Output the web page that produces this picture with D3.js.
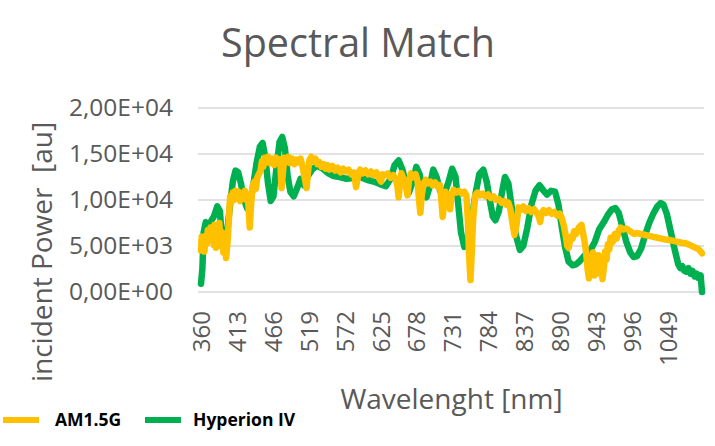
<!DOCTYPE html>
<html>
<head>
<meta charset="utf-8">
<script src="https://cdn.jsdelivr.net/npm/d3@7"></script>
<style>
  html, body { margin: 0; padding: 0; background: #fff; }
  svg { display: block; font-family: "Open Sans", "Noto Sans", sans-serif; }
</style>
</head>
<body>
<svg id="chart" width="715" height="446"></svg>
<script>
// tick labels of the category axis (every 53 nm)
var xTickLabels = [360, 413, 466, 519, 572, 625, 678, 731, 784, 837, 890, 943, 996, 1049];
var yTickValues = [0, 5000, 10000, 15000, 20000];
var seriesNames = ['AM1.5G', 'Hyperion IV'];
var seriesColors = ['#FFC000', '#00B050'];

// [wavelength nm, incident power au]
var am15gData = [
  [360,4500],[361,6000],[362,4800],[364,5900],[365,4400],[367,6100],[369,5300],[370,6700],[372,5600],[374,7000],
  [375,5800],[377,6800],[379,5100],[380,7300],[382,4800],[384,6900],[386,5400],[387,7500],[389,5000],[391,6500],
  [393,4300],[395,6200],[397,3700],[399,5200],[401,7600],[403,10400],[405,9800],[407,10800],[409,10000],[411,11000],
  [413,10300],[416,10900],[418,9900],[420,10600],[423,10100],[425,11000],[428,10400],[430,9500],[432,7000],[434,9500],
  [436,11500],[439,12000],[441,11200],[443,12400],[446,12900],[448,13200],[450,14200],[452,13600],[454,14600],[457,14100],
  [459,14700],[462,14000],[465,14500],[468,13800],[471,14600],[474,14200],[477,14400],[479,11300],[481,13000],[483,14600],
  [486,14100],[489,14700],[492,14000],[495,14500],[498,13900],[501,14400],[504,14100],[507,14500],[510,13600],[513,12500],
  [516,11300],[518,13000],[520,14300],[523,14700],[526,14200],[529,14500],[532,13900],[535,14100],[538,13600],[541,13900],
  [544,13400],[547,13800],[550,13300],[554,13700],[558,13200],[562,13500],[566,13000],[570,13400],[574,13100],[578,13300],
  [582,12800],[586,13000],[589,11400],[592,12600],[595,13300],[599,12900],[603,13200],[607,12800],[611,13100],[615,12700],
  [619,13000],[622,12500],[626,12000],[628,12800],[632,12700],[636,12900],[640,12400],[644,12700],[648,12200],[650,11500],
  [652,10300],[654,12000],[656,12900],[659,12300],[662,11800],[665,10500],[667,12000],[670,12900],[674,12500],[677,12800],
  [680,12000],[682,10000],[684,8600],[686,10500],[689,11800],[692,12200],[695,11800],[699,12000],[702,11600],[706,11900],
  [710,11400],[713,11600],[715,10000],[717,8150],[719,9500],[721,10900],[724,10400],[726,10600],[728,9000],[730,10500],
  [733,11100],[737,10800],[741,11000],[745,10700],[749,10900],[752,10500],[754,8000],[756,4000],[758,1300],[760,4500],
  [762,8000],[765,10500],[768,10800],[772,10500],[776,10700],[780,10400],[784,10600],[788,10200],[792,10400],[796,10000],
  [800,10100],[804,9700],[808,9900],[811,9500],[814,9700],[817,9000],[820,7500],[823,6200],[826,7300],[829,9200],
  [832,8900],[836,9300],[840,8800],[844,9100],[848,8700],[852,9000],[856,8600],[859,8200],[861,7600],[863,8500],
  [866,8900],[870,8600],[874,8900],[878,8500],[882,8700],[886,8300],[890,8500],[893,8000],[896,7200],[899,6000],
  [901,5000],[903,4800],[906,6000],[909,5800],[911,6600],[914,6300],[918,7000],[922,7300],[924,6500],[927,5300],
  [929,4200],[931,2500],[933,1500],[935,3800],[937,2200],[939,4300],[941,1800],[943,3600],[945,2400],[947,4000],
  [949,2000],[951,3500],[953,1400],[955,2600],[957,4400],[959,3500],[961,5200],[963,4600],[965,5900],[968,5400],
  [971,6300],[974,5800],[977,6700],[980,7000],[984,6800],[988,6900],[992,6700],[996,6500],[1000,6300],[1004,6400],
  [1010,6300],[1016,6200],[1022,6100],[1028,6000],[1034,5900],[1040,5800],[1046,5700],[1052,5650],[1058,5550],[1064,5450],
  [1070,5350],[1076,5300],[1082,5100],[1088,4900],[1094,4700],[1097,4500],[1100,4200]
];

var hyperionData = [
  [360,900],[362,2500],[364,6500],[367,7600],[370,6800],[374,7600],[379,8200],[384,9300],[388,8800],[391,5500],
  [395,4300],[399,6800],[403,9500],[407,12000],[411,13200],[415,13000],[419,11800],[423,10200],[428,9100],[432,9400],
  [437,11500],[442,14000],[447,15800],[451,16200],[455,14600],[459,11800],[463,9900],[467,10400],[471,13200],[476,16300],
  [480,16850],[484,15600],[488,12600],[492,10900],[497,10400],[502,11300],[507,12300],[512,11600],[518,12600],[525,13400],
  [532,13700],[540,13400],[548,12900],[556,12600],[565,12500],[575,12300],[585,12400],[595,12500],[605,12200],[615,12000],
  [625,11700],[633,11500],[640,12300],[646,13800],[652,14300],[658,13200],[663,11500],[667,10800],[672,11800],[678,13600],
  [683,12800],[688,10800],[693,10300],[698,11500],[703,13300],[708,12500],[713,11000],[719,10600],[725,11800],[731,13400],
  [736,12500],[740,9500],[744,6500],[749,4900],[754,5300],[759,7500],[765,10500],[771,12800],[777,13300],[782,12000],
  [787,9800],[791,8200],[795,7800],[800,8800],[805,11000],[809,12500],[814,11800],[819,9200],[825,6200],[831,4570],
  [836,5000],[842,7000],[848,9500],[854,11000],[860,11600],[866,11000],[871,10600],[877,11000],[883,10900],[888,9500],
  [893,7000],[898,4800],[903,3300],[909,2900],[914,3000],[920,3400],[927,4000],[935,4500],[942,5500],[948,6800],
  [955,7600],[961,8400],[967,9000],[972,9130],[977,8600],[982,7200],[988,5500],[994,4300],[999,3800],[1004,3900],
  [1010,4700],[1016,6200],[1022,7500],[1028,8500],[1034,9300],[1039,9670],[1043,9500],[1048,8500],[1054,6500],[1060,4500],
  [1065,3000],[1068,2600],[1071,2800],[1074,2300],[1077,2200],[1080,2600],[1083,2000],[1086,2300],[1089,1700],[1092,2000],
  [1095,1500],[1098,1800],[1100,0]
];

(function () {
    var svg = d3.select('#chart');
    var textColor = '#595959';

    var plot = { left: 201, right: 702, top: 108, bottom: 292 };

    var x = d3.scaleLinear().domain([360, 1100]).range([plot.left, plot.right]);
    var y = d3.scaleLinear().domain([0, 20000]).range([plot.bottom, plot.top]);

    // title
    svg.append('text')
        .attr('x', 358)
        .attr('y', 57)
        .attr('text-anchor', 'middle')
        .attr('fill', textColor)
        .style('font-size', '39.5px')
        .text('Spectral Match');

    // gridlines
    svg.append('g')
        .selectAll('line')
        .data(yTickValues)
        .enter()
        .append('line')
        .attr('x1', plot.left - 3)
        .attr('x2', plot.right + 2)
        .attr('y1', function (d) { return y(d); })
        .attr('y2', function (d) { return y(d); })
        .attr('stroke', '#d9d9d9')
        .attr('stroke-width', 1.5);

    // y axis labels
    var yAxis = d3.axisLeft(y)
        .tickValues(yTickValues)
        .tickSize(0)
        .tickPadding(0)
        .tickFormat(function (d) {
            var s = d.toExponential(2).replace('.', ',');
            var parts = s.split('e');
            var exp = parseInt(parts[1], 10);
            return parts[0] + 'E' + (exp < 0 ? '-' : '+') + (Math.abs(exp) < 10 ? '0' : '') + Math.abs(exp);
        });
    var gy = svg.append('g')
        .attr('transform', 'translate(173,0)')
        .call(yAxis);
    gy.select('.domain').remove();
    gy.selectAll('text')
        .attr('fill', textColor)
        .style('font-size', '24.5px')
        .style('font-family', '"Open Sans", sans-serif');

    // x axis labels (rotated)
    var xAxis = d3.axisBottom(x)
        .tickValues(xTickLabels)
        .tickSize(0)
        .tickFormat(d3.format('d'));
    var gx = svg.append('g')
        .attr('transform', 'translate(0,' + plot.bottom + ')')
        .call(xAxis);
    gx.select('.domain').remove();
    gx.selectAll('text')
        .attr('fill', textColor)
        .style('font-size', '24px')
        .style('font-family', '"Open Sans", sans-serif')
        .attr('text-anchor', 'end')
        .attr('transform', 'translate(0,19) rotate(-90)')
        .attr('x', 0)
        .attr('y', 0)
        .attr('dy', '0.36em');

    // axis titles
    svg.append('text')
        .attr('transform', 'translate(52,252) rotate(-90)')
        .attr('text-anchor', 'middle')
        .attr('fill', textColor)
        .style('font-size', '28px')
        .style('white-space', 'pre')
        .text('incident Power  [au]');

    svg.append('text')
        .attr('x', (plot.left + plot.right) / 2)
        .attr('y', 409)
        .attr('text-anchor', 'middle')
        .attr('fill', textColor)
        .style('font-size', '28px')
        .text('Wavelenght [nm]');

    // lines
    var line = d3.line()
        .x(function (d) { return x(d[0]); })
        .y(function (d) { return y(d[1]); });

    [hyperionData, am15gData].forEach(function (data, i) {
        svg.append('path')
            .datum(data)
            .attr('fill', 'none')
            .attr('stroke', i === 0 ? seriesColors[1] : seriesColors[0])
            .attr('stroke-width', 6.5)
            .attr('stroke-linejoin', 'round')
            .attr('stroke-linecap', 'round')
            .attr('d', line);
    });

    // legend
    var legendItems = [
        { name: seriesNames[0], color: seriesColors[0], x: 3, tx: 55 },
        { name: seriesNames[1], color: seriesColors[1], x: 145, tx: 193 }
    ];
    var lg = svg.append('g');
    legendItems.forEach(function (d) {
        lg.append('line')
            .attr('x1', d.x).attr('x2', d.x + 36)
            .attr('y1', 420).attr('y2', 420)
            .attr('stroke', d.color)
            .attr('stroke-width', 6);
        lg.append('text')
            .attr('x', d.tx)
            .attr('y', 426)
            .attr('fill', '#000')
            .style('font-size', '17.5px')
            .style('font-weight', 'bold')
            .text(d.name);
    });
})();
</script>
</body>
</html>
